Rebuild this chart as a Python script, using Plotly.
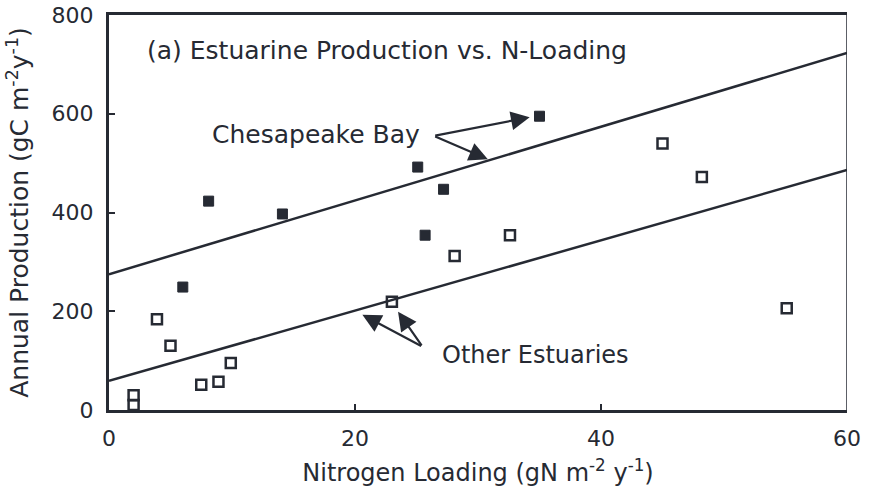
import plotly.graph_objects as go

# Chesapeake Bay (filled squares)
cb_x = [6.0, 8.1, 14.1, 25.1, 25.7, 27.2, 35.0]
cb_y = [249, 423, 397, 492, 354, 447, 595]
# Other estuaries (open squares)
oe_x = [2.0, 2.0, 3.9, 5.0, 7.5, 8.9, 9.9, 23.0, 28.1, 32.6, 45.0, 48.2, 55.1]
oe_y = [30, 10, 184, 130, 51, 57, 95, 219, 312, 354, 540, 472, 206]
# Regression lines (endpoints at x = 0 and 60)
line_x = [0, 60]
upper_y = [275, 723]
lower_y = [59, 486]

x_ticks = [0, 20, 40, 60]
y_ticks = [0, 200, 400, 600, 800]

ink = "#262a33"
font = "DejaVu Sans, Verdana, sans-serif"

fig = go.Figure()
fig.add_trace(go.Scatter(x=line_x, y=upper_y, mode="lines",
                         line=dict(color=ink, width=2.5), showlegend=False))
fig.add_trace(go.Scatter(x=line_x, y=lower_y, mode="lines",
                         line=dict(color=ink, width=2.5), showlegend=False))
fig.add_trace(go.Scatter(x=cb_x, y=cb_y, mode="markers",
                         marker=dict(symbol="square", size=10, color=ink,
                                     line=dict(color=ink, width=1)),
                         showlegend=False))
fig.add_trace(go.Scatter(x=oe_x, y=oe_y, mode="markers",
                         marker=dict(symbol="square-open", size=10, color=ink,
                                     line=dict(color=ink, width=2.5)),
                         showlegend=False))

ann = []
ann.append(dict(x=2.9, y=729, xref="x", yref="y", text="(a) Estuarine Production vs. N-Loading",
                showarrow=False, xanchor="left", yanchor="middle",
                font=dict(family=font, size=25, color=ink)))
ann.append(dict(x=8.2, y=557, xref="x", yref="y", text="Chesapeake Bay",
                showarrow=False, xanchor="left", yanchor="middle",
                font=dict(family=font, size=25, color=ink)))
ann.append(dict(x=26.9, y=112, xref="x", yref="y", text="Other Estuaries",
                showarrow=False, xanchor="left", yanchor="middle",
                font=dict(family=font, size=24, color=ink)))
# arrows: (head_x, head_y, tail_x, tail_y)
arrows = [(34.2, 593, 26.4, 555), (30.8, 508, 26.4, 555),
          (20.6, 193, 25.5, 128), (23.5, 199, 25.5, 128)]
for hx, hy, tx, ty in arrows:
    ann.append(dict(x=hx, y=hy, ax=tx, ay=ty, xref="x", yref="y", axref="x", ayref="y",
                    text="", showarrow=True, arrowhead=2, arrowsize=1.7, arrowwidth=2.2,
                    arrowcolor=ink))

fig.update_layout(
    width=871, height=497,
    margin=dict(l=109, r=24, t=15, b=87),
    paper_bgcolor="white", plot_bgcolor="white",
    annotations=ann,
    shapes=[dict(type="line", xref="x", yref="y", x0=60, x1=60, y0=0, y1=800,
                 line=dict(color=ink, width=1.5))],
    xaxis=dict(range=[0, 60], tickvals=x_ticks, automargin=False,
               showgrid=False, zeroline=False, showline=True, linewidth=3,
               linecolor=ink, mirror=True, ticks="inside", ticklen=6, tickwidth=2,
               tickcolor=ink, tickfont=dict(family=font, size=22, color=ink),
               ticklabelstandoff=7,
               title=dict(text="Nitrogen Loading (gN m<sup>-2</sup> y<sup>-1</sup>)",
                          font=dict(family=font, size=24, color=ink), standoff=14)),
    yaxis=dict(range=[0, 800], tickvals=y_ticks, automargin=False,
               showgrid=False, zeroline=False, showline=True, linewidth=3,
               linecolor=ink, ticks="inside", ticklen=6, tickwidth=2,
               tickcolor=ink, tickfont=dict(family=font, size=22, color=ink),
               ticklabelstandoff=8,
               title=dict(text="Annual Production (gC m<sup>-2</sup>y<sup>-1</sup>)",
                          font=dict(family=font, size=25, color=ink), standoff=16)),
)

fig.write_html("out.html")
